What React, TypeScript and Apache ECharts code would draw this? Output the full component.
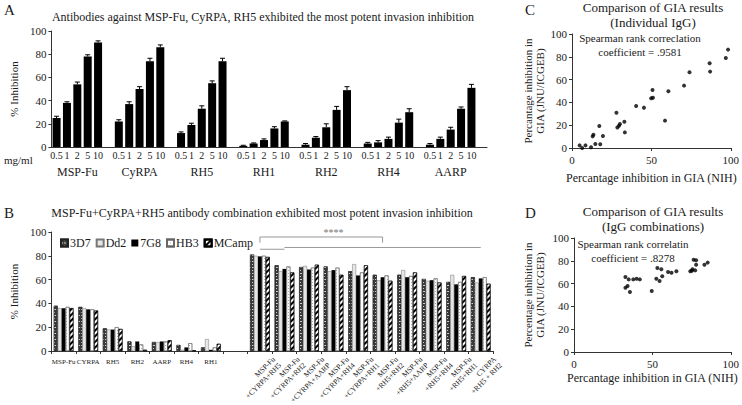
import React, { useEffect, useRef } from "react";
import * as echarts from "echarts";

const FONT = "'Liberation Serif', 'DejaVu Serif', serif";
const TXT = "#1a1a1a";

// ---------- Panel A ----------
const concLabels = ["0.5", "1", "2", "5", "10"];
const antigensA = ["MSP-Fu", "CyRPA", "RH5", "RH1", "RH2", "RH4", "AARP"];
const inhibA = [
  [25, 38, 54, 78, 90], // MSP-Fu
  [22, 37, 50, 74, 86], // CyRPA
  [12, 19, 33, 55, 74], // RH5
  [1, 3, 6, 16, 22], // RH1
  [2, 8, 17, 32, 49], // RH2
  [3, 4, 7, 21, 30], // RH4
  [2, 7, 15, 33, 51], // AARP
];
const errA = [
  [1.5, 1, 2, 1.5, 1.5],
  [1.5, 2, 2, 2.5, 2],
  [1, 1.5, 2.5, 2, 2.5],
  [0.5, 0.5, 1, 1.5, 0.5],
  [1, 1, 3, 3, 3],
  [1, 1.5, 1.5, 3, 3],
  [1, 1.5, 2, 1.5, 3],
];

// ---------- Panel B ----------
const categoriesB = [
  "MSP-Fu", "CYRPA", "RH5", "RH2", "AARP", "RH4", "RH1", "",
  "MSP-Fu\n+CYRPA+RH5", "MSP-Fu\n+CYRPA+RH2", "MSP-Fu\n+CYRPA+AARP",
  "MSP-Fu\n+CYRPA+RH4", "MSP-Fu\n+CYRPA+RH1", "MSP-Fu\n+RH5+RH2",
  "MSP-Fu\n+RH5+AARP", "MSP-Fu\n+RH5+RH4", "MSP-Fu\n+RH5+RH1", "CYRPA\n+RH5 + RH2",
];
const strains = ["3D7", "Dd2", "7G8", "HB3", "MCamp"];
const b3D7 = [38, 37, 19, 8, 7.5, 5, 3, null, 81, 72, 70.5, 71, 67, 64, 64, 60.5, 58, 62];
const bDd2 = [36, 36, 18, 4, 7.5, 1, 10, null, 80, 67, 71.5, 67, 73, 59.5, 68, 59, 64, 57.5];
const b7G8 = [36, 35, 18, 8, 8, 3, 1, null, 79.5, 69, 68.5, 68, 63.5, 62, 62, 59.5, 56, 61];
const bHB3 = [37, 35, 20, 5.5, 8, 6.5, 3, null, 80, 71, 70, 70, 66, 63.5, 63, 61, 58, 62];
const bMCamp = [36, 34, 18.5, 1, 9, 0.5, 6, null, 79, 66, 72.5, 64, 72, 59, 66, 57.5, 63, 56.5];

// ---------- Panel C ----------
const nihC = [4.8, 6.4, 8.5, 12, 13, 13.5, 14.7, 17.2, 17.8, 19.5, 28, 28.6, 29.6, 30.2, 33, 33.3, 40.4, 45.3, 49.9, 51, 50.7, 60.7, 58.6, 70.6, 74, 86.7, 87, 96.9, 98.3];
const jnuC = [2.3, 0, 2.3, 0.6, 10.2, 11.7, 3.5, 19.3, 3.2, 10.5, 31, 18, 19.6, 21, 23, 13.7, 36.8, 35.4, 43.6, 44, 50.9, 49.7, 24, 54.7, 66.4, 74.3, 67, 79, 86.3];

// ---------- Panel D ----------
const nihD = [32.8, 32.8, 34.9, 34.2, 35.7, 37.8, 39.9, 42, 49.6, 52.5, 53.2, 54.6, 55.7, 56.3, 60, 62.2, 65.3, 74.2, 75.2, 75.6, 76.3, 77.3, 77.9, 77.9, 83.2, 85.3];
const jnuD = [65.8, 56.4, 63.7, 57.9, 52.6, 63.7, 64.3, 63.7, 53.5, 64.3, 73.7, 62.3, 72.5, 66.4, 70.2, 69.6, 70.8, 70.8, 71.3, 72.5, 81, 71.6, 80.4, 76.6, 76.6, 78.4];

export default function App() {
  const ref = useRef<HTMLDivElement>(null);

  useEffect(() => {
    if (!ref.current) return;
    const chart = echarts.init(ref.current, null, { renderer: "svg" });

    // Panel A slots: 6 per antigen (5 concentrations + gap)
    const slotsA: string[] = [];
    const groupSlotsA: string[] = [];
    const barDataA: (number | null)[] = [];
    const errDataA: number[][] = [];
    antigensA.forEach((g, gi) => {
      for (let s = 0; s < 6; s++) {
        const idx = gi * 6 + s;
        if (s < 5) {
          slotsA.push(concLabels[s]);
          barDataA.push(inhibA[gi][s]);
          errDataA.push([idx, inhibA[gi][s], errA[gi][s]]);
        } else {
          slotsA.push("");
          barDataA.push(null);
        }
        groupSlotsA.push(s === 2 ? g : "");
      }
    });

    const scatterC = nihC.map((x, i) => [x, jnuC[i]]);
    const scatterD = nihD.map((x, i) => [x, jnuD[i]]);

    const axisText = { fontFamily: FONT, color: TXT };
    const lineStyle = { color: "#333", width: 1 };

    const stripe = {
      symbol: "rect", symbolSize: 1, dashArrayX: [1, 0], dashArrayY: [2, 2],
      rotation: -Math.PI / 4, color: "#000",
    };
    const brick = {
      symbol: "rect", symbolSize: 1, dashArrayX: [[2, 1], [1, 2]], dashArrayY: [1, 1.5],
      color: "rgba(255,255,255,0.75)",
    };
    const dots = {
      symbol: "rect", symbolSize: 1, dashArrayX: [1, 2], dashArrayY: [1, 2],
      color: "#aaa",
    };

    const bSeriesData = [b3D7, bDd2, b7G8, bHB3, bMCamp];
    const bStyles: any[] = [
      { color: "#3a3a3a", decal: brick, borderColor: "#222", borderWidth: 0.5 },
      { color: "#e6e6e6", borderColor: "#777", borderWidth: 0.5 },
      { color: "#000" },
      { color: "#fff", decal: dots, borderColor: "#666", borderWidth: 0.5 },
      { color: "#fff", decal: stripe, borderColor: "#000", borderWidth: 0.5 },
    ];

    const errRender = (params: any, api: any) => {
      const x = api.value(0);
      const v = api.value(1);
      const e = api.value(2);
      const top = api.coord([x, v + e]);
      const bot = api.coord([x, v]);
      const hw = 2.5;
      return {
        type: "group",
        children: [
          { type: "line", shape: { x1: top[0], y1: top[1], x2: bot[0], y2: bot[1] }, style: { stroke: "#000", lineWidth: 1 } },
          { type: "line", shape: { x1: top[0] - hw, y1: top[1], x2: top[0] + hw, y2: top[1] }, style: { stroke: "#000", lineWidth: 1 } },
        ],
      };
    };

    const option: any = {
      animation: false,
      backgroundColor: "#fff",
      textStyle: { fontFamily: FONT },
      legend: {
        data: strains,
        left: 55,
        top: 232,
        icon: "rect",
        itemWidth: 7,
        itemHeight: 7,
        itemGap: 5,
        textStyle: { fontFamily: FONT, fontSize: 12, color: TXT, padding: [0, 0, 0, -3] },
      },
      grid: [
        { left: 42, top: 31, width: 445, height: 116 },
        { left: 42, top: 232, width: 451, height: 119 },
        { left: 572, top: 34, width: 161, height: 114 },
        { left: 574, top: 238, width: 159, height: 114 },
      ],
      xAxis: [
        {
          gridIndex: 0, type: "category", data: slotsA, position: "bottom",
          axisLine: { lineStyle }, axisTick: { show: false },
          axisLabel: { ...axisText, fontSize: 10, interval: 0, margin: 3 },
        },
        {
          gridIndex: 0, type: "category", data: groupSlotsA, position: "bottom",
          axisLine: { show: false }, axisTick: { show: false },
          axisLabel: { ...axisText, fontSize: 12, interval: 0, margin: 19 },
        },
        {
          gridIndex: 1, type: "category", data: categoriesB, position: "bottom",
          axisLine: { lineStyle }, axisTick: { show: true, length: 3, lineStyle },
          axisLabel: {
            ...axisText, fontSize: 7, interval: 0, margin: 7,
            formatter: (v: string, i: number) => (i < 7 ? v : ""),
          },
        },
        {
          gridIndex: 2, type: "value", min: 0, max: 100, interval: 50,
          axisLine: { lineStyle }, axisTick: { show: true, length: 3, lineStyle },
          splitLine: { show: false },
          axisLabel: { ...axisText, fontSize: 11, margin: 6 },
          name: "Percantage inhibition in GIA (NIH)", nameLocation: "middle", nameGap: 24,
          nameTextStyle: { ...axisText, fontSize: 12 },
        },
        {
          gridIndex: 3, type: "value", min: 0, max: 100, interval: 50,
          axisLine: { lineStyle }, axisTick: { show: true, length: 3, lineStyle },
          splitLine: { show: false },
          axisLabel: { ...axisText, fontSize: 11, margin: 6 },
          name: "Percantage inhibition in GIA (NIH)", nameLocation: "middle", nameGap: 20,
          nameTextStyle: { ...axisText, fontSize: 12 },
        },
      ],
      yAxis: [
        {
          gridIndex: 0, type: "value", min: 0, max: 100, interval: 20,
          axisLine: { show: true, lineStyle }, axisTick: { show: true, length: 3, lineStyle },
          splitLine: { show: false },
          axisLabel: { ...axisText, fontSize: 11, margin: 5 },
          name: "% Inhibition", nameLocation: "middle", nameGap: 27,
          nameTextStyle: { ...axisText, fontSize: 11 },
        },
        {
          gridIndex: 1, type: "value", min: 0, max: 100, interval: 20,
          axisLine: { show: true, lineStyle }, axisTick: { show: true, length: 3, lineStyle },
          splitLine: { show: false },
          axisLabel: { ...axisText, fontSize: 11, margin: 5 },
          name: "% Inhibition", nameLocation: "middle", nameGap: 27,
          nameTextStyle: { ...axisText, fontSize: 11 },
        },
        {
          gridIndex: 2, type: "value", min: 0, max: 100, interval: 20,
          axisLine: { show: true, lineStyle }, axisTick: { show: true, length: 3, lineStyle },
          splitLine: { show: false },
          axisLabel: { ...axisText, fontSize: 11, margin: 5 },
          name: "Percantage inhibition in\nGIA (JNU/ICGEB)", nameLocation: "middle", nameGap: 26,
          nameTextStyle: { ...axisText, fontSize: 11, lineHeight: 12 },
        },
        {
          gridIndex: 3, type: "value", min: 0, max: 100, interval: 20,
          axisLine: { show: true, lineStyle }, axisTick: { show: true, length: 3, lineStyle },
          splitLine: { show: false },
          axisLabel: { ...axisText, fontSize: 11, margin: 5 },
          name: "Percentage inhibition in\nGIA (JNU/ICGEB)", nameLocation: "middle", nameGap: 28,
          nameTextStyle: { ...axisText, fontSize: 11, lineHeight: 12 },
        },
      ],
      series: [
        {
          type: "bar", xAxisIndex: 0, yAxisIndex: 0, data: barDataA,
          barWidth: 8, itemStyle: { color: "#000" },
        },
        {
          type: "custom", xAxisIndex: 0, yAxisIndex: 0, data: errDataA,
          renderItem: errRender, encode: { x: 0, y: 1 }, z: 3,
        },
        ...strains.map((s, i) => ({
          type: "bar", name: s, xAxisIndex: 2, yAxisIndex: 1, data: bSeriesData[i],
          barGap: "0%", barCategoryGap: "20%", itemStyle: bStyles[i],
        })),
        {
          type: "scatter", xAxisIndex: 3, yAxisIndex: 2, data: scatterC,
          symbolSize: 4, itemStyle: { color: "#000" },
        },
        {
          type: "scatter", xAxisIndex: 4, yAxisIndex: 3, data: scatterD,
          symbolSize: 4, itemStyle: { color: "#000" },
        },
      ],
    };

    chart.setOption(option);

    const bIdx = 2; // first panel B bar series
    const px = (c: number, v: number) => chart.convertToPixel({ seriesIndex: bIdx }, [c, v]) as number[];
    const gray = { stroke: "#999", lineWidth: 1 };
    const b1 = px(8.2, 95.8);
    const b2 = px(13, 95.8);
    const bDrop = px(8.2, 91)[1];
    const star = px(10.6, 99.5);
    const s1 = px(7.6, 85.5);
    const s2 = px(8.5, 85.5);
    const l1 = px(8.7, 87);
    const l2 = px(17.4, 87);

    const txt = (text: string, x: number, y: number, size: number, align = "center", extra: any = {}) => ({
      type: "text", x, y,
      style: { text, fontFamily: FONT, fontSize: size, fill: TXT, textAlign: align, textVerticalAlign: "middle", ...extra },
    });

    // rotated combination labels, anchored on each category's position
    const rotLabels: any[] = [];
    categoriesB.forEach((c, i) => {
      if (i <= 7) return;
      const p = px(i, 0);
      rotLabels.push({
        type: "text", x: p[0] + 11, y: p[1] + 4, rotation: Math.PI / 4,
        style: {
          text: c, fontFamily: FONT, fontSize: 7.5, lineHeight: 8.5, fill: TXT,
          textAlign: "right", textVerticalAlign: "top",
        },
      });
    });

    chart.setOption({
      graphic: [
        txt("A", 4, 10, 15, "left"),
        txt("B", 4, 213, 15, "left"),
        txt("C", 525, 10, 15, "left"),
        txt("D", 525, 213, 15, "left"),
        txt("Antibodies against MSP-Fu, CyRPA, RH5 exhibited the most potent invasion inhibition", 263, 17, 12),
        txt("MSP-Fu+CyRPA+RH5 antibody combination exhibited most potent invasion inhibition", 262, 213, 12),
        txt("mg/ml", 4, 160, 11, "left"),
        txt("Comparison of GIA results\n(Individual IgG)", 653, 15, 13, "center", { lineHeight: 15 }),
        txt("Comparison of GIA results\n(IgG combinations)", 653, 219, 13, "center", { lineHeight: 15 }),
        txt("Spearman rank correclation\ncoefficient = .9581", 640, 45, 11, "center", { lineHeight: 14 }),
        txt("Spearman rank correlatin\ncoefficient = .8278", 633, 251, 11, "center", { lineHeight: 14 }),
        { type: "polyline", shape: { points: [[b1[0], bDrop], [b1[0], b1[1]], [b2[0], b2[1]], [b2[0], bDrop]] }, style: { ...gray, fill: "none" } },
        txt("****", star[0], star[1], 10, "center", { fill: "#777" }),
        { type: "line", shape: { x1: s1[0], y1: s1[1], x2: s2[0], y2: s2[1] }, style: gray },
        { type: "line", shape: { x1: l1[0], y1: l1[1], x2: l2[0], y2: l2[1] }, style: gray },
        ...rotLabels,
      ],
    });

    return () => chart.dispose();
  }, []);

  return (
    <div
      ref={ref}
      style={{ position: "absolute", left: 0, top: 0, width: 742, height: 405 }}
    />
  );
}
